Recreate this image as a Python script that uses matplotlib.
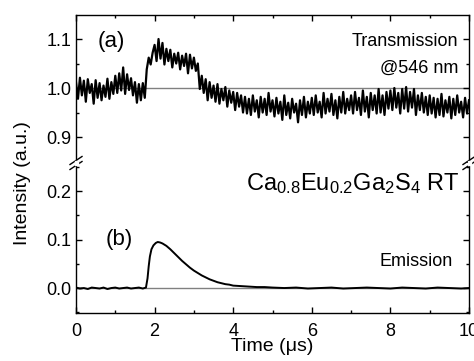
import numpy as np
import matplotlib
matplotlib.use('Agg')
import matplotlib.pyplot as plt
from matplotlib.ticker import MultipleLocator

plt.rcParams['font.family'] = ['Liberation Sans', 'DejaVu Sans']
plt.rcParams['mathtext.fontset'] = 'custom'
plt.rcParams['mathtext.rm'] = 'Liberation Sans'
plt.rcParams['mathtext.it'] = 'Liberation Sans'

# (a) transmission @546 nm, sampled every 0.05 us
tTrans = np.linspace(0, 10, 201)
transmission = [
    1.012, 0.978, 1.021, 0.985, 1.015, 0.972, 1.018, 0.990, 1.008, 0.968, 1.016, 0.980, 1.010, 0.975, 1.005, 0.982, 1.019, 0.978, 1.012, 0.988,
    1.025, 0.990, 1.030, 0.995, 1.042, 0.988, 1.028, 0.996, 1.020, 0.985, 1.012, 0.970, 1.008, 0.975, 1.010, 0.980, 1.038, 1.062, 1.048, 1.072,
    1.088, 1.055, 1.100, 1.060, 1.092, 1.048, 1.080, 1.055, 1.078, 1.042, 1.070, 1.050, 1.072, 1.038, 1.066, 1.045, 1.070, 1.030, 1.068, 1.040,
    1.062, 1.035, 1.050, 0.998, 1.025, 0.990, 1.018, 0.975, 1.012, 0.980, 1.005, 0.972, 1.008, 0.968, 0.998, 0.975, 1.002, 0.962, 0.995, 0.970,
    0.992, 0.955, 0.990, 0.962, 0.985, 0.950, 0.982, 0.948, 0.978, 0.945, 0.985, 0.952, 0.975, 0.940, 0.982, 0.950, 0.978, 0.945, 0.990, 0.952,
    0.975, 0.942, 0.980, 0.948, 0.972, 0.935, 0.985, 0.945, 0.970, 0.938, 0.978, 0.950, 0.968, 0.930, 0.975, 0.945, 0.982, 0.940, 0.972, 0.948,
    0.980, 0.945, 0.985, 0.950, 0.972, 0.940, 0.990, 0.948, 0.978, 0.952, 0.988, 0.945, 0.975, 0.938, 0.982, 0.950, 0.992, 0.948, 0.978, 0.955,
    0.985, 0.948, 0.992, 0.955, 0.980, 0.945, 0.995, 0.952, 0.982, 0.940, 0.990, 0.955, 0.985, 0.948, 0.998, 0.950, 0.985, 0.945, 0.992, 0.958,
    0.995, 0.955, 1.000, 0.960, 0.990, 0.948, 0.998, 0.958, 1.002, 0.952, 0.992, 0.960, 0.998, 0.945, 0.985, 0.955, 0.990, 0.950, 0.982, 0.945,
    0.985, 0.948, 0.980, 0.940, 0.978, 0.945, 0.988, 0.942, 0.975, 0.950, 0.982, 0.938, 0.978, 0.945, 0.985, 0.950, 0.972, 0.940, 0.980, 0.948, 0.975,
]

# (b) emission
tEmis = [0.0, 0.1, 0.2, 0.3, 0.4, 0.5, 0.6, 0.7, 0.8, 0.9, 1.0, 1.1, 1.2, 1.3, 1.4, 1.5, 1.6, 1.7, 1.78,
         1.82, 1.85, 1.88, 1.92, 1.97, 2.03, 2.08, 2.14, 2.2, 2.3, 2.4, 2.5, 2.6, 2.7, 2.8, 2.9,
         3.0, 3.1, 3.2, 3.3, 3.4, 3.5, 3.6, 3.7, 3.8, 3.9, 4.0, 4.2, 4.4, 4.6, 4.8, 5.0,
         5.3, 5.6, 5.9, 6.2, 6.5, 6.8, 7.1, 7.4, 7.7, 8.0, 8.3, 8.6, 8.9, 9.2, 9.5, 9.8, 10.0]
emission = [0.001, -0.001, 0.000, -0.002, 0.001, 0.000, -0.001, 0.001, -0.002, 0.000, 0.001, -0.001, 0.000, 0.001, -0.001, 0.000, 0.001, -0.001, 0.001,
            0.020, 0.045, 0.065, 0.080, 0.088, 0.093, 0.095, 0.094, 0.092, 0.087, 0.080, 0.072, 0.064, 0.056, 0.049, 0.042,
            0.036, 0.031, 0.026, 0.022, 0.018, 0.015, 0.012, 0.010, 0.008, 0.007, 0.005, 0.004, 0.003, 0.002, 0.002, 0.001,
            0.000, 0.001, -0.001, 0.000, 0.001, -0.001, 0.000, 0.001, 0.000, -0.001, 0.001, 0.000, -0.001, 0.001, 0.000, -0.001, 0.000]

fig = plt.figure(figsize=(4.74, 3.61), dpi=100)
L, W = 76/474, (469-76)/474
axTop = fig.add_axes([L, 1-163/361, W, 148/361])
axBot = fig.add_axes([L, 1-313/361, W, 150/361])

# reference lines
axTop.plot([0, 10], [1.0, 1.0], color='#808080', lw=1.0, zorder=1)
axBot.plot([0, 10], [0.0, 0.0], color='#808080', lw=1.0, zorder=1)

axTop.plot(tTrans, transmission, color='black', lw=1.6, zorder=2)
axBot.plot(tEmis, emission, color='black', lw=1.4, zorder=2)

axTop.set_xlim(0, 10)
axBot.set_xlim(0, 10)
axTop.set_ylim(0.847, 1.149)
axBot.set_ylim(-0.0515, 0.258)

for ax in (axTop, axBot):
    ax.xaxis.set_major_locator(MultipleLocator(2))
    ax.xaxis.set_minor_locator(MultipleLocator(1))
    ax.yaxis.set_major_locator(MultipleLocator(0.1))
    ax.yaxis.set_minor_locator(MultipleLocator(0.05))
    ax.tick_params(which='both', direction='in', left=True, right=True, labelsize=13, width=1.0)
    ax.tick_params(which='major', length=4.5)
    ax.tick_params(which='minor', length=2.5)
    for s in ax.spines.values():
        s.set_linewidth(1.0)

axTop.spines['bottom'].set_visible(False)
axBot.spines['top'].set_visible(False)
axTop.tick_params(which='both', top=True, bottom=False, labelbottom=False)
axBot.tick_params(which='both', top=False, bottom=True)
axBot.tick_params(axis='x', pad=7)
axTop.yaxis.set_major_formatter(plt.FormatStrFormatter('%.1f'))
axBot.yaxis.set_major_formatter(plt.FormatStrFormatter('%.1f'))

axBot.set_xlabel('Time (\u03bcs)', fontsize=14, labelpad=-1)
fig.text(23/474, 1-183/361, 'Intensity (a.u.)', rotation=90, fontsize=14, ha='center', va='center')

# annotations
fig.text(98/474, 1-42/361, '(a)', fontsize=16, ha='left', va='center')
fig.text(106/474, 1-240/361, '(b)', fontsize=16, ha='left', va='center')
fig.text(458/474, 1-42/361, 'Transmission', fontsize=13, ha='right', va='center')
fig.text(458/474, 1-68/361, '@546 nm', fontsize=13, ha='right', va='center')
fig.text(453/474, 1-262/361, 'Emission', fontsize=13, ha='right', va='center')
fig.text(246/474, 1-190/361, r'Ca$_{0.8}$Eu$_{0.2}$Ga$_2$S$_4$ RT', fontsize=17, ha='left', va='baseline')

# axis break marks
for xs in (76, 469):
    for dy in (-2.5, 2.5):
        x0, x1 = (xs-6)/474, (xs+6)/474
        y0, y1 = 1-(163+dy+4)/361, 1-(163+dy-4)/361
        fig.add_artist(plt.Line2D([x0, x1], [y0, y1], color='black', lw=1.0))
    fig.add_artist(plt.Rectangle((xs/474-1.5/474, 1-165/361), 3/474, 4/361, color='white', zorder=5))

fig.savefig('out.png', dpi=100)
